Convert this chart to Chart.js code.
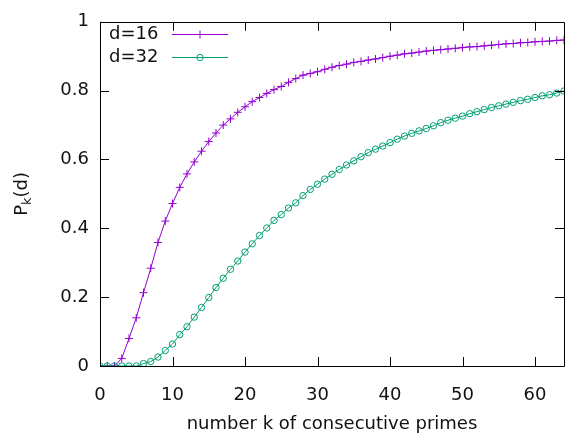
<!DOCTYPE html>
<html>
<head>
<meta charset="utf-8">
<script src="https://cdn.jsdelivr.net/npm/chart.js@4"></script>
<style>
  html, body { margin: 0; padding: 0; background: #fff; }
</style>
</head>
<body>
<canvas id="grafico" width="569" height="435"></canvas>
<script>
// number k of consecutive primes
const kValues = [0, 1, 2, 3, 4, 5, 6, 7, 8, 9, 10, 11, 12, 13, 14, 15, 16, 17, 18, 19, 20,
  21, 22, 23, 24, 25, 26, 27, 28, 29, 30, 31, 32, 33, 34, 35, 36, 37, 38, 39, 40,
  41, 42, 43, 44, 45, 46, 47, 48, 49, 50, 51, 52, 53, 54, 55, 56, 57, 58, 59, 60,
  61, 62, 63, 64];

// P_k(d) for d=16
const d16 = [0, 0, 0, 0.022, 0.080, 0.140, 0.213, 0.284, 0.359, 0.421, 0.472, 0.519, 0.558,
  0.593, 0.624, 0.652, 0.677, 0.700, 0.718, 0.737, 0.753, 0.768, 0.780, 0.792, 0.803,
  0.812, 0.824, 0.835, 0.845, 0.850, 0.855, 0.862, 0.868, 0.873, 0.877, 0.882, 0.885,
  0.889, 0.892, 0.896, 0.900, 0.903, 0.907, 0.909, 0.912, 0.915, 0.917, 0.919, 0.921,
  0.923, 0.925, 0.927, 0.928, 0.930, 0.932, 0.934, 0.936, 0.937, 0.939, 0.940, 0.942,
  0.943, 0.944, 0.946, 0.947];

// P_k(d) for d=32
const d32 = [0, 0, 0, 0, 0, 0, 0.007, 0.013, 0.026, 0.045, 0.064, 0.091, 0.114, 0.142,
  0.170, 0.199, 0.228, 0.255, 0.281, 0.305, 0.331, 0.355, 0.379, 0.401, 0.423, 0.440,
  0.459, 0.474, 0.495, 0.513, 0.528, 0.543, 0.557, 0.571, 0.584, 0.596, 0.608, 0.620,
  0.630, 0.639, 0.649, 0.659, 0.668, 0.676, 0.683, 0.690, 0.698, 0.707, 0.714, 0.720,
  0.726, 0.733, 0.739, 0.745, 0.751, 0.756, 0.761, 0.766, 0.771, 0.775, 0.780, 0.785,
  0.788, 0.793, 0.799];

const xTicks = [0, 10, 20, 30, 40, 50, 60];
const yTicks = [0, 0.2, 0.4, 0.6, 0.8, 1];

const fuente = 'DejaVu Sans';
const colorTexto = '#111';

// marco, marcas hacia adentro, leyenda y titulo del eje y
const marcoPlugin = {
  id: 'marco',
  afterDatasetsDraw(chart) {
    const ctx = chart.ctx;
    const a = chart.chartArea;
    const sx = chart.scales.x;
    const sy = chart.scales.y;
    ctx.save();
    ctx.strokeStyle = '#000';
    ctx.lineWidth = 1;
    ctx.beginPath();
    ctx.rect(Math.round(a.left) + 0.5, Math.round(a.top) + 0.5,
      Math.round(a.right - a.left), Math.round(a.bottom - a.top));
    xTicks.forEach(function (v) {
      let px = Math.round(sx.getPixelForValue(v)) + 0.5;
      ctx.moveTo(px, a.bottom); ctx.lineTo(px, a.bottom - 9);
      ctx.moveTo(px, a.top); ctx.lineTo(px, a.top + 9);
    });
    yTicks.forEach(function (v) {
      let py = Math.round(sy.getPixelForValue(v)) + 0.5;
      ctx.moveTo(a.left, py); ctx.lineTo(a.left + 9, py);
      ctx.moveTo(a.right, py); ctx.lineTo(a.right - 9, py);
    });
    ctx.stroke();

    // leyenda
    ctx.font = '18px "' + fuente + '"';
    ctx.textBaseline = 'middle';
    ctx.textAlign = 'left';
    chart.data.datasets.forEach(function (ds, i) {
      let y = 34 + i * 23;
      ctx.fillStyle = colorTexto;
      ctx.fillText(ds.label, 109, y);
      ctx.strokeStyle = ds.borderColor;
      ctx.lineWidth = 1;
      ctx.beginPath();
      ctx.moveTo(172, y + 0.5); ctx.lineTo(228, y + 0.5);
      ctx.stroke();
      ctx.strokeStyle = ds.pointBorderColor;
      ctx.fillStyle = 'rgba(0,0,0,0)';
      Chart.helpers.drawPoint(ctx, {
        pointStyle: ds.pointStyle, radius: ds.pointRadius,
        borderWidth: ds.pointBorderWidth, rotation: 0
      }, 200, y + 0.5);
    });

    // titulo eje y: P_k(d)
    ctx.fillStyle = colorTexto;
    ctx.translate(20, (a.top + a.bottom) / 2);
    ctx.rotate(-Math.PI / 2);
    ctx.textBaseline = 'alphabetic';
    ctx.font = '18px "' + fuente + '"';
    let wP = ctx.measureText('P').width;
    let wD = ctx.measureText('(d)').width;
    ctx.font = '13px "' + fuente + '"';
    let wK = ctx.measureText('k').width;
    let x0 = -(wP + wK + wD) / 2;
    ctx.font = '18px "' + fuente + '"';
    ctx.fillText('P', x0, 7);
    ctx.font = '13px "' + fuente + '"';
    ctx.fillText('k', x0 + wP, 11);
    ctx.font = '18px "' + fuente + '"';
    ctx.fillText('(d)', x0 + wP + wK, 7);
    ctx.restore();
  }
};

const ctxGrafico = document.getElementById('grafico');
const grafico = new Chart(ctxGrafico, {
  type: 'line',
  data: {
    labels: kValues,
    datasets: [{
      label: 'd=16',
      data: d16,
      borderColor: '#9400d3',
      borderWidth: 1,
      pointStyle: 'cross',
      pointRadius: 4,
      pointBorderWidth: 1,
      pointBorderColor: '#9400d3',
      pointBackgroundColor: '#9400d3',
      tension: 0,
      order: 1
    }, {
      label: 'd=32',
      data: d32,
      borderColor: '#009e73',
      borderWidth: 1,
      pointStyle: 'circle',
      pointRadius: 3.2,
      pointBorderWidth: 1,
      pointBorderColor: '#009e73',
      pointBackgroundColor: 'rgba(0,0,0,0)',
      tension: 0,
      order: 0
    }]
  },
  options: {
    responsive: false,
    animation: false,
    devicePixelRatio: 1,
    layout: { padding: { top: 13, right: 4, left: 0, bottom: 0 } },
    plugins: {
      legend: { display: false },
      tooltip: { enabled: false }
    },
    scales: {
      x: {
        type: 'linear',
        min: 0,
        max: 64,
        grid: { display: false, drawTicks: false },
        border: { display: false },
        ticks: {
          stepSize: 10,
          includeBounds: false,
          maxRotation: 0,
          padding: 19,
          color: colorTexto,
          font: { family: fuente, size: 18 }
        },
        title: {
          display: true,
          text: 'number k of consecutive primes',
          color: colorTexto,
          font: { family: fuente, size: 18 },
          padding: { top: 10, bottom: 0 }
        },
        afterFit: function (scale) { scale.height = 69; }
      },
      y: {
        min: 0,
        max: 1,
        grid: { display: false, drawTicks: false },
        border: { display: false },
        ticks: {
          stepSize: 0.2,
          padding: 11,
          color: colorTexto,
          font: { family: fuente, size: 18 },
          callback: function (v) { return String(Math.round(v * 10) / 10); }
        },
        afterFit: function (scale) { scale.width = 100; }
      }
    }
  },
  plugins: [marcoPlugin]
});
</script>
</body>
</html>
